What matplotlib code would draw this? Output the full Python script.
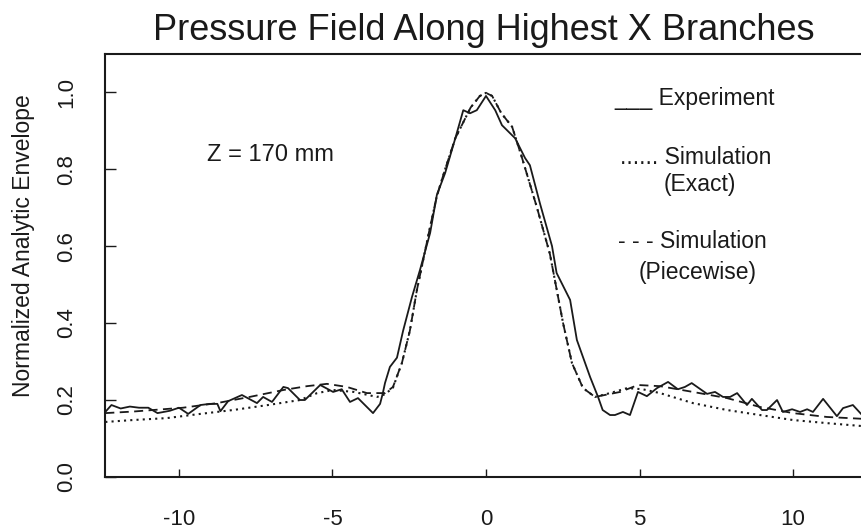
import matplotlib
matplotlib.use("Agg")
import matplotlib.pyplot as plt

plt.rcParams['font.family'] = ['Liberation Sans', 'DejaVu Sans']

# ---- data ----
exp_x = [-12.4, -12.2, -11.9, -11.6, -11.3, -11.0, -10.7, -10.3, -10.0, -9.7,
         -9.3, -9.0, -8.75, -8.65, -8.4, -7.95, -7.46, -7.26, -6.97, -6.6,
         -6.45, -6.06, -5.9, -5.4, -4.98, -4.7, -4.43, -4.17, -3.68, -3.45,
         -3.36, -3.29, -3.13, -2.9, -2.7, -2.41, -2.15, -1.82, -1.6, -1.33,
         -1.0, -0.74, -0.52, -0.3, 0.0, 0.3, 0.52, 0.95, 1.27, 1.43,
         1.76, 2.15, 2.3, 2.74, 2.96, 3.39, 3.65, 3.8, 4.04, 4.2,
         4.46, 4.69, 4.95, 5.24, 5.57, 5.93, 6.25, 6.48, 6.7, 7.2,
         7.46, 7.72, 7.95, 8.18, 8.5, 8.66, 8.99, 9.15, 9.48, 9.67,
         9.97, 10.23, 10.46, 10.65, 10.98, 11.43, 11.63, 11.95, 12.25]
exp_y = [0.169, 0.187, 0.178, 0.183, 0.180, 0.180, 0.166, 0.172, 0.180, 0.164,
         0.187, 0.190, 0.190, 0.171, 0.197, 0.213, 0.192, 0.208, 0.195, 0.234,
         0.231, 0.200, 0.200, 0.239, 0.221, 0.228, 0.195, 0.205, 0.166, 0.190,
         0.218, 0.244, 0.286, 0.310, 0.380, 0.468, 0.538, 0.634, 0.733, 0.790,
         0.880, 0.953, 0.945, 0.953, 0.990, 0.953, 0.914, 0.880, 0.829, 0.810,
         0.710, 0.600, 0.530, 0.460, 0.356, 0.260, 0.208, 0.174, 0.161, 0.161,
         0.169, 0.161, 0.221, 0.210, 0.231, 0.247, 0.228, 0.234, 0.244, 0.216,
         0.221, 0.208, 0.208, 0.218, 0.187, 0.203, 0.174, 0.174, 0.200, 0.169,
         0.176, 0.169, 0.176, 0.169, 0.203, 0.158, 0.179, 0.187, 0.161]

pw_x = [-12.4, -11.5, -9.87, -8.76, -7.7, -6.6, -5.83, -5.18, -4.53, -3.88,
        -3.29, -3.03, -2.74, -2.48, -2.25, -1.82, -1.6, -1.33, -1.0, -0.5,
        -0.2, 0.0, 0.2, 0.5, 0.85, 1.17, 1.66, 2.08, 2.51, 2.8,
        3.16, 3.55, 4.37, 4.95, 5.67, 6.74, 7.85, 8.92, 10.0, 11.1, 12.3]
pw_y = [0.166, 0.170, 0.180, 0.192, 0.208, 0.226, 0.236, 0.242, 0.234, 0.218,
        0.218, 0.234, 0.296, 0.380, 0.486, 0.650, 0.730, 0.800, 0.880, 0.960,
        0.990, 0.998, 0.990, 0.945, 0.910, 0.830, 0.700, 0.580, 0.400, 0.296,
        0.231, 0.208, 0.221, 0.239, 0.236, 0.221, 0.205, 0.182, 0.166, 0.156, 0.151]

ex_x = [-12.4, -11.5, -10.4, -9.3, -8.24, -7.1, -6.06, -5.5, -4.98, -4.3,
        -3.55, -3.29, -3.03, -2.74, -2.48, -2.25, -1.82, -1.6, -1.33, -1.0,
        -0.5, -0.2, 0.0, 0.2, 0.5, 0.85, 1.17, 1.66, 2.08, 2.51,
        2.8, 3.16, 3.55, 4.04, 4.6, 5.1, 5.67, 6.74, 7.85, 8.92,
        10.0, 11.1, 12.3]
ex_y = [0.143, 0.148, 0.153, 0.164, 0.174, 0.187, 0.200, 0.218, 0.226, 0.221,
        0.208, 0.215, 0.232, 0.296, 0.380, 0.486, 0.650, 0.730, 0.800, 0.880,
        0.960, 0.990, 0.998, 0.990, 0.945, 0.910, 0.830, 0.700, 0.580, 0.400,
        0.296, 0.231, 0.208, 0.218, 0.231, 0.228, 0.218, 0.192, 0.174, 0.161,
        0.148, 0.140, 0.132]

x_ticks = [-10, -5, 0, 5, 10]
y_ticks = [0.0, 0.2, 0.4, 0.6, 0.8, 1.0]

W, H = 862, 531
fig = plt.figure(figsize=(W / 100, H / 100), dpi=100)
ax = fig.add_axes([105 / W, (H - 477) / H, 762 / W, (477 - 54) / H])

ax.plot(exp_x, exp_y, color='#1a1a1a', lw=1.3, ls='-')
ax.plot(ex_x, ex_y, color='#1a1a1a', lw=1.5, ls=(0, (1, 2)))
ax.plot(pw_x, pw_y, color='#1a1a1a', lw=1.3, ls=(0, (5, 3)))

ax.set_xlim(-12.41, 12.41)
ax.set_ylim(0, 1.099)
ax.set_xticks(x_ticks)
ax.set_xticklabels([str(v) for v in x_ticks])
ax.set_yticks(y_ticks)
ax.set_yticklabels([f"{v:.1f}" for v in y_ticks], rotation=90, va='center')

ax.tick_params(axis='x', direction='in', length=6, width=1, pad=23,
               labelsize=16, colors='#1a1a1a')
ax.tick_params(axis='y', direction='in', length=8, width=1, pad=20,
               labelsize=16, colors='#1a1a1a')
for s in ax.spines.values():
    s.set_linewidth(1.5)
    s.set_color('#1a1a1a')
ax.spines['right'].set_visible(False)

ax.set_ylabel("Normalized Analytic Envelope", fontsize=16.5, color='#1a1a1a')
ax.yaxis.label.set_va('center')
ax.yaxis.set_label_coords(-(105 - 24) / 762, 0.5 + 19.5 / 423)

def ft(px, py, s, size=16.5, ha='left'):
    fig.text(px / W, 1 - py / H, s, fontsize=size, ha=ha, va='center',
             color='#1a1a1a')

fig.text(484 / W, 1 - 30 / H, "Pressure Field Along Highest X Branches",
         fontsize=26, ha='center', va='center', color='#1a1a1a')

ft(207, 155, "Z = 170 mm", size=17)
ft(614, 99, "___ Experiment")
ft(620, 157, "...... Simulation")
ft(700, 184, "(Exact)", ha='center')
ft(618, 242, "- - - Simulation")
ft(698, 272, "(Piecewise)", ha='center')

fig.savefig("out.png", dpi=100)
